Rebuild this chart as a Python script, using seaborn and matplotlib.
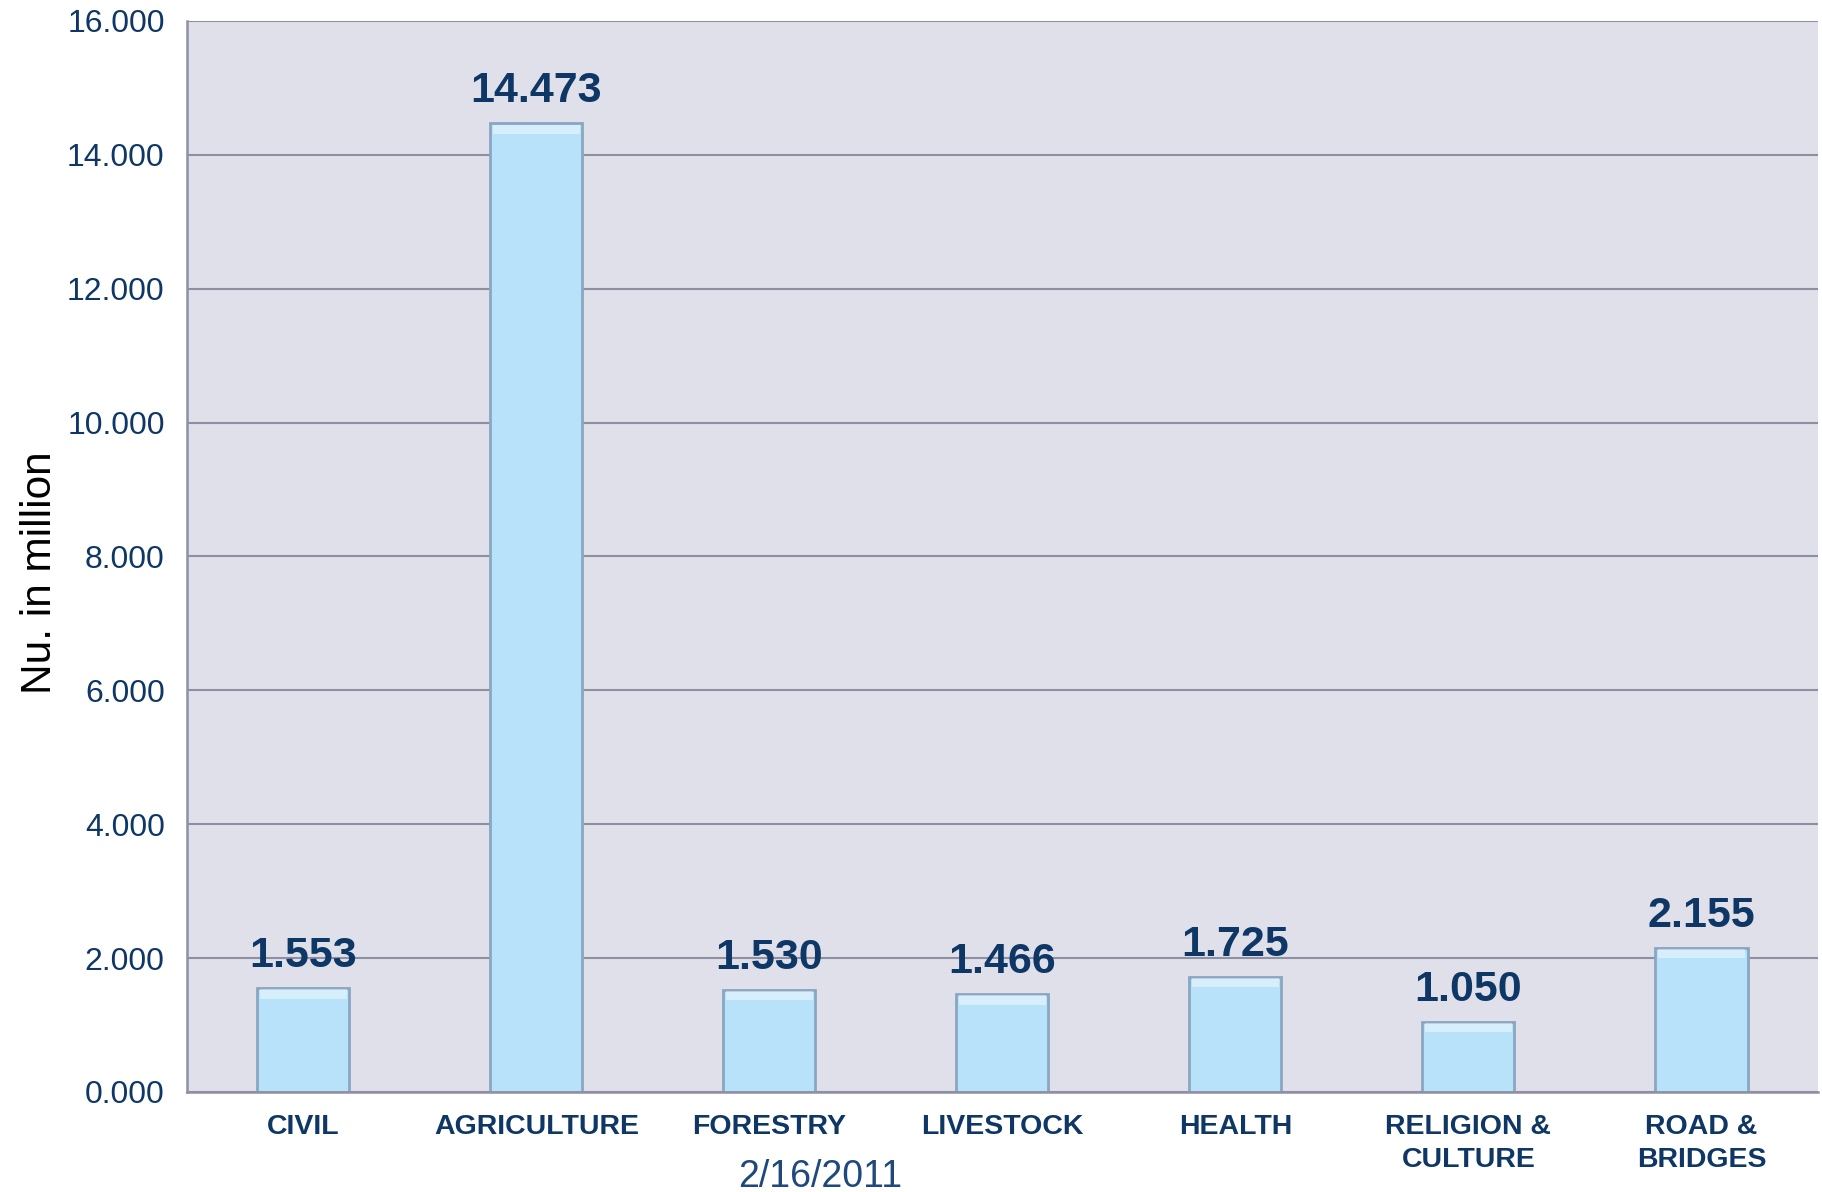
import matplotlib
matplotlib.use("Agg")
import matplotlib.pyplot as plt
import seaborn as sns
import pandas as pd
import numpy as np
from matplotlib.ticker import FixedLocator

# ─────────────────────────────────────────────
# 데이터
# ─────────────────────────────────────────────
categories = ["CIVIL", "AGRICULTURE", "FORESTRY", "LIVESTOCK", "HEALTH",
              "RELIGION &\nCULTURE", "ROAD &\nBRIDGES"]
values = [1.553, 14.473, 1.530, 1.466, 1.725, 1.050, 2.155]
y_ticks = [0, 2, 4, 6, 8, 10, 12, 14, 16]
date_label = "2/16/2011"

NAVY = "#0E3766"
GRID = "#8E8FA3"
BG = "#E0E0EA"
BAR = "#B8E1FA"
EDGE = "#8AA6C2"

sns.set_theme(style="white")
plt.rcParams["font.family"] = ["Liberation Sans", "DejaVu Sans"]

df = pd.DataFrame({"sector": categories, "value": values})

fig = plt.figure(figsize=(18.22, 11.92), dpi=100)
ax = fig.add_axes([0.1026, 0.0839, 0.8952, 0.8985])
ax.set_facecolor(BG)

sns.barplot(data=df, x="sector", y="value", ax=ax, color=BAR,
            width=0.395, edgecolor=EDGE, linewidth=2, saturation=1)

# 막대 윗부분 하이라이트 (베벨 느낌)
ax.bar(range(len(values)), [0.14] * len(values), bottom=np.array(values) - 0.16,
       width=0.37, color="white", alpha=0.45, linewidth=0, zorder=3)

# 값 라벨
for i, v in enumerate(values):
    ax.annotate(f"{v:.3f}", (i, v), xytext=(0, 8.5), textcoords="offset points",
                ha="center", va="bottom", fontsize=31, fontweight="bold", color=NAVY)

ax.set_ylim(0, 16)
ax.set_xlim(-0.5, len(categories) - 0.5)
ax.set_yticks(y_ticks)
ax.set_yticklabels([f"{t:.3f}" for t in y_ticks], fontsize=23, color=NAVY)
ax.yaxis.grid(True, color=GRID, linewidth=1.5)
ax.set_axisbelow(True)

ax.set_xticks(range(len(categories)))
ax.set_xticklabels(categories, fontsize=20.5, fontweight="bold", color=NAVY,
                   linespacing=1.35)
ax.tick_params(axis="x", length=0, pad=16)
ax.xaxis.set_minor_locator(FixedLocator(np.arange(-0.5, len(categories), 1.0)))
ax.tick_params(axis="x", which="minor", length=9, width=1.5, color=GRID, direction="out")
ax.tick_params(axis="y", length=10, width=1.5, color=GRID, direction="out", pad=6)

for side in ["top", "right"]:
    ax.spines[side].set_visible(False)
for side in ["left", "bottom"]:
    ax.spines[side].set_color(GRID)
    ax.spines[side].set_linewidth(1.8)

ax.set_xlabel("")
ax.set_ylabel("Nu. in million", fontsize=30.5, color="black", labelpad=14)
ax.yaxis.set_label_coords(-0.078, 0.485)

fig.text(0.45, 0.004, date_label, ha="center", va="baseline", fontsize=27, color="#1F497D")

plt.savefig("out.png", dpi=100)
plt.close()
